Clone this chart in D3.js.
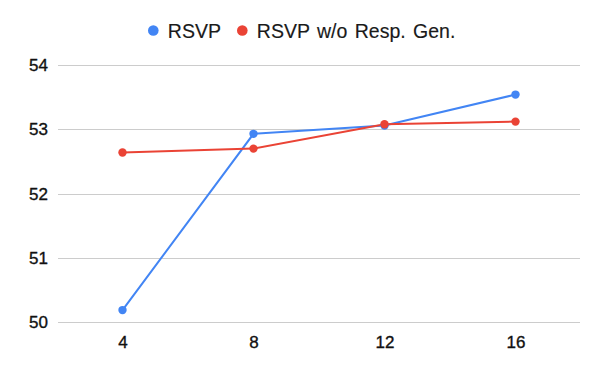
<!DOCTYPE html>
<html>
<head>
<meta charset="utf-8">
<script src="https://cdn.jsdelivr.net/npm/d3@7"></script>
<style>
  body { margin: 0; background: #fff; }
  svg { display: block; font-family: "Liberation Sans", Arial, sans-serif; }
</style>
</head>
<body>
<script>
// Data
const xValues = [4, 8, 12, 16];
const rsvp = [50.19, 52.93, 53.06, 53.54];
const rsvpNoGen = [52.64, 52.70, 53.08, 53.12];
const yTicks = [50, 51, 52, 53, 54];
const seriesNames = ["RSVP", "RSVP w/o Resp. Gen."];
const colors = ["#4285F4", "#EA4335"];

const W = 600, H = 371;

const svg = d3.select("body")
    .append("svg")
    .attr("width", W)
    .attr("height", H);

// Scales
const x = d3.scaleLinear().domain([2, 18]).range([57, 581]);
const y = d3.scaleLinear().domain([50, 54]).range([322.3, 65]);

// Gridlines
svg.append("g")
    .selectAll("line")
    .data(yTicks)
    .enter()
    .append("line")
    .attr("x1", 58)
    .attr("x2", 580)
    .attr("y1", d => Math.round(y(d)) + 0.5)
    .attr("y2", d => Math.round(y(d)) + 0.5)
    .attr("stroke", "#cccccc")
    .attr("stroke-width", 1);

// axis label text
function styleTick(sel) {
    sel.attr("font-size", "17px")
        .attr("font-family", "Liberation Sans, Arial, sans-serif")
        .attr("fill", "#111")
        .attr("stroke", "#111")
        .attr("stroke-width", 0.35);
}

// Y axis labels
const yAxis = svg.append("g")
    .attr("transform", "translate(48,0)")
    .call(d3.axisLeft(y).tickValues(yTicks).tickSize(0).tickPadding(0).tickFormat(d3.format("d")));
yAxis.select(".domain").remove();
yAxis.selectAll("text").call(styleTick);

// X axis labels
const xAxis = svg.append("g")
    .attr("transform", "translate(0,336)")
    .call(d3.axisBottom(x).tickValues(xValues).tickSize(0).tickPadding(0));
xAxis.select(".domain").remove();
xAxis.selectAll("text").call(styleTick);

// Lines and points
const series = [rsvp, rsvpNoGen];
const line = d3.line()
    .x((d, i) => x(xValues[i]))
    .y(d => y(d));

series.forEach((vals, s) => {
    svg.append("path")
        .datum(vals)
        .attr("fill", "none")
        .attr("stroke", colors[s])
        .attr("stroke-width", 2)
        .attr("d", line);
});
series.forEach((vals, s) => {
    svg.selectAll(".pt" + s)
        .data(vals)
        .enter()
        .append("circle")
        .attr("class", "pt" + s)
        .attr("cx", (d, i) => x(xValues[i]))
        .attr("cy", d => y(d))
        .attr("r", 4.2)
        .attr("fill", colors[s]);
});

// Legend
const legend = svg.append("g");
const legendX = [153.3, 242.3];
seriesNames.forEach((name, i) => {
    legend.append("circle")
        .attr("cx", legendX[i])
        .attr("cy", 30.5)
        .attr("r", 5.3)
        .attr("fill", colors[i]);
    legend.append("text")
        .attr("x", legendX[i] + 14.5)
        .attr("y", 37.8)
        .attr("font-size", "19.5px")
        .attr("word-spacing", "2px")
        .attr("fill", "#1a1a1a")
        .attr("stroke", "#1a1a1a")
        .attr("stroke-width", 0.15)
        .text(name);
});
</script>
</body>
</html>
